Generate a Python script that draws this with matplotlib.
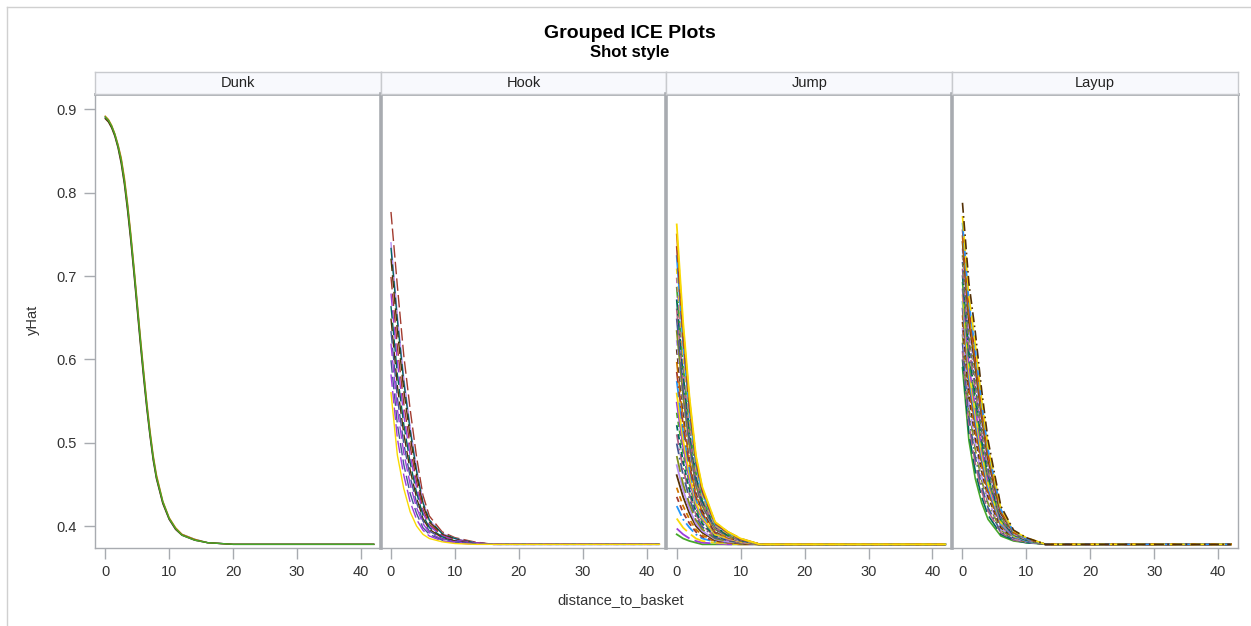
import matplotlib
matplotlib.use('Agg')
import matplotlib.pyplot as plt
from matplotlib.lines import Line2D

plt.rcParams['font.family'] = ['Liberation Sans', 'DejaVu Sans']

# panel names and x ticks
PANELS = ['Dunk', 'Hook', 'Jump', 'Layup']
X_TICKS = [0, 10, 20, 30, 40]
Y_TICKS = [0.4, 0.5, 0.6, 0.7, 0.8, 0.9]

# Dunk curves (almost identical)
DUNK_X = [0, 0.5, 1, 1.5, 2, 2.5, 3, 3.5, 4, 4.5, 5, 5.5, 6, 6.5, 7, 7.5, 8, 9, 10, 11, 12, 14, 16, 20, 42]
DUNK_Y = [
    [0.891, 0.887, 0.880, 0.870, 0.857, 0.840, 0.815, 0.784, 0.748, 0.708, 0.666, 0.624, 0.584, 0.546, 0.512, 0.483, 0.460, 0.429, 0.409, 0.397, 0.390, 0.384, 0.380, 0.378, 0.378],
    [0.890, 0.886, 0.879, 0.869, 0.855, 0.837, 0.812, 0.781, 0.745, 0.705, 0.663, 0.621, 0.581, 0.543, 0.510, 0.481, 0.458, 0.428, 0.408, 0.396, 0.389, 0.383, 0.380, 0.378, 0.378],
    [0.892, 0.888, 0.881, 0.871, 0.858, 0.842, 0.818, 0.787, 0.751, 0.711, 0.669, 0.627, 0.587, 0.549, 0.515, 0.485, 0.462, 0.430, 0.410, 0.398, 0.390, 0.384, 0.380, 0.378, 0.378],
    [0.889, 0.885, 0.878, 0.868, 0.854, 0.835, 0.810, 0.778, 0.742, 0.702, 0.660, 0.618, 0.578, 0.541, 0.508, 0.479, 0.457, 0.427, 0.408, 0.396, 0.389, 0.383, 0.380, 0.378, 0.378],
    [0.891, 0.887, 0.880, 0.870, 0.856, 0.839, 0.814, 0.783, 0.747, 0.707, 0.665, 0.623, 0.583, 0.545, 0.511, 0.482, 0.459, 0.429, 0.409, 0.397, 0.389, 0.383, 0.380, 0.378, 0.378],
]
DUNK_GROUP = [6, 10, 8, 3, 9]

# Hook curves
HOOK_X = [0, 1, 2, 3, 4, 5, 6, 8, 10, 13, 16, 42]
HOOK_Y = [
    [0.777, 0.688, 0.605, 0.540, 0.483, 0.437, 0.412, 0.393, 0.386, 0.381, 0.378, 0.378],
    [0.740, 0.653, 0.578, 0.519, 0.469, 0.429, 0.407, 0.391, 0.385, 0.380, 0.378, 0.378],
    [0.734, 0.647, 0.573, 0.515, 0.466, 0.428, 0.407, 0.391, 0.385, 0.380, 0.378, 0.378],
    [0.721, 0.635, 0.563, 0.508, 0.461, 0.425, 0.405, 0.390, 0.384, 0.380, 0.378, 0.378],
    [0.699, 0.615, 0.547, 0.496, 0.453, 0.420, 0.402, 0.389, 0.383, 0.380, 0.378, 0.378],
    [0.679, 0.597, 0.533, 0.485, 0.446, 0.416, 0.400, 0.388, 0.383, 0.380, 0.378, 0.378],
    [0.664, 0.582, 0.522, 0.476, 0.440, 0.413, 0.398, 0.387, 0.382, 0.379, 0.378, 0.378],
    [0.649, 0.568, 0.511, 0.467, 0.434, 0.409, 0.396, 0.386, 0.382, 0.379, 0.378, 0.378],
    [0.634, 0.554, 0.499, 0.459, 0.428, 0.406, 0.394, 0.385, 0.381, 0.379, 0.378, 0.378],
    [0.619, 0.540, 0.488, 0.450, 0.422, 0.403, 0.392, 0.384, 0.381, 0.379, 0.378, 0.378],
    [0.599, 0.522, 0.474, 0.439, 0.415, 0.398, 0.390, 0.383, 0.380, 0.379, 0.378, 0.378],
    [0.582, 0.505, 0.461, 0.429, 0.408, 0.395, 0.388, 0.382, 0.380, 0.378, 0.378, 0.378],
    [0.560, 0.485, 0.445, 0.417, 0.400, 0.390, 0.385, 0.381, 0.379, 0.378, 0.378, 0.378],
]
HOOK_GROUP = [13, 10, 14, 15, 13, 16, 14, 15, 12, 16, 12, 16, 11]

# Jump curves
JUMP_X = [0, 1, 2, 3, 4, 6, 8, 10, 13, 42]
JUMP_Y = [
    [0.390, 0.385, 0.382, 0.380, 0.378, 0.378, 0.378, 0.378, 0.378, 0.378],
    [0.397, 0.390, 0.385, 0.382, 0.380, 0.379, 0.378, 0.378, 0.378, 0.378],
    [0.409, 0.398, 0.391, 0.385, 0.382, 0.380, 0.379, 0.378, 0.378, 0.378],
    [0.424, 0.408, 0.398, 0.390, 0.385, 0.381, 0.380, 0.379, 0.378, 0.378],
    [0.435, 0.416, 0.403, 0.393, 0.387, 0.382, 0.380, 0.379, 0.378, 0.378],
    [0.446, 0.424, 0.408, 0.396, 0.389, 0.382, 0.380, 0.379, 0.378, 0.378],
    [0.461, 0.435, 0.415, 0.400, 0.392, 0.383, 0.381, 0.379, 0.378, 0.378],
    [0.473, 0.443, 0.420, 0.403, 0.394, 0.384, 0.381, 0.380, 0.378, 0.378],
    [0.484, 0.450, 0.426, 0.407, 0.396, 0.385, 0.382, 0.380, 0.378, 0.378],
    [0.499, 0.461, 0.433, 0.411, 0.399, 0.386, 0.383, 0.380, 0.378, 0.378],
    [0.510, 0.469, 0.438, 0.414, 0.401, 0.387, 0.383, 0.380, 0.378, 0.378],
    [0.521, 0.477, 0.443, 0.417, 0.403, 0.388, 0.383, 0.381, 0.378, 0.378],
    [0.536, 0.487, 0.450, 0.421, 0.406, 0.389, 0.384, 0.381, 0.378, 0.378],
    [0.548, 0.495, 0.455, 0.425, 0.408, 0.390, 0.384, 0.381, 0.378, 0.378],
    [0.559, 0.503, 0.461, 0.428, 0.410, 0.390, 0.385, 0.381, 0.378, 0.378],
    [0.574, 0.514, 0.468, 0.432, 0.413, 0.392, 0.386, 0.382, 0.378, 0.378],
    [0.585, 0.521, 0.473, 0.435, 0.415, 0.392, 0.386, 0.382, 0.378, 0.378],
    [0.597, 0.529, 0.478, 0.438, 0.417, 0.393, 0.386, 0.382, 0.378, 0.378],
    [0.612, 0.540, 0.485, 0.443, 0.419, 0.394, 0.387, 0.382, 0.378, 0.378],
    [0.623, 0.548, 0.490, 0.446, 0.422, 0.395, 0.387, 0.382, 0.378, 0.378],
    [0.634, 0.556, 0.496, 0.449, 0.424, 0.396, 0.388, 0.383, 0.378, 0.378],
    [0.649, 0.566, 0.503, 0.453, 0.426, 0.397, 0.389, 0.383, 0.378, 0.378],
    [0.661, 0.574, 0.508, 0.456, 0.428, 0.398, 0.389, 0.383, 0.378, 0.378],
    [0.672, 0.582, 0.513, 0.460, 0.430, 0.399, 0.389, 0.383, 0.378, 0.378],
    [0.687, 0.592, 0.520, 0.464, 0.433, 0.400, 0.390, 0.384, 0.378, 0.378],
    [0.698, 0.600, 0.525, 0.467, 0.435, 0.400, 0.391, 0.384, 0.378, 0.378],
    [0.709, 0.608, 0.531, 0.470, 0.437, 0.401, 0.391, 0.384, 0.378, 0.378],
    [0.724, 0.619, 0.538, 0.474, 0.440, 0.402, 0.392, 0.384, 0.378, 0.378],
    [0.736, 0.627, 0.543, 0.478, 0.442, 0.403, 0.392, 0.384, 0.378, 0.378],
    [0.751, 0.637, 0.550, 0.482, 0.445, 0.404, 0.393, 0.385, 0.378, 0.378],
    [0.762, 0.645, 0.555, 0.485, 0.447, 0.405, 0.393, 0.385, 0.378, 0.378],
]

# Layup curves
LAYUP_X = [0, 1, 2, 3, 4, 6, 8, 10, 13, 42]
LAYUP_Y = [
    [0.590, 0.503, 0.457, 0.428, 0.408, 0.388, 0.382, 0.380, 0.378, 0.378],
    [0.600, 0.512, 0.466, 0.435, 0.413, 0.390, 0.383, 0.380, 0.378, 0.378],
    [0.610, 0.522, 0.475, 0.442, 0.418, 0.392, 0.383, 0.381, 0.378, 0.378],
    [0.620, 0.531, 0.483, 0.448, 0.422, 0.393, 0.384, 0.381, 0.378, 0.378],
    [0.630, 0.541, 0.492, 0.455, 0.427, 0.395, 0.385, 0.381, 0.378, 0.378],
    [0.638, 0.548, 0.499, 0.460, 0.431, 0.397, 0.385, 0.381, 0.378, 0.378],
    [0.645, 0.556, 0.506, 0.466, 0.435, 0.398, 0.386, 0.382, 0.378, 0.378],
    [0.653, 0.564, 0.513, 0.471, 0.438, 0.400, 0.386, 0.382, 0.378, 0.378],
    [0.661, 0.571, 0.520, 0.477, 0.442, 0.401, 0.387, 0.382, 0.378, 0.378],
    [0.669, 0.579, 0.527, 0.482, 0.446, 0.402, 0.387, 0.382, 0.378, 0.378],
    [0.677, 0.586, 0.534, 0.487, 0.450, 0.404, 0.388, 0.383, 0.378, 0.378],
    [0.685, 0.594, 0.542, 0.493, 0.454, 0.405, 0.388, 0.383, 0.378, 0.378],
    [0.693, 0.601, 0.549, 0.498, 0.457, 0.407, 0.389, 0.383, 0.378, 0.378],
    [0.701, 0.609, 0.556, 0.504, 0.461, 0.408, 0.389, 0.383, 0.378, 0.378],
    [0.709, 0.616, 0.563, 0.509, 0.465, 0.410, 0.390, 0.384, 0.378, 0.378],
    [0.717, 0.624, 0.570, 0.514, 0.469, 0.411, 0.390, 0.384, 0.378, 0.378],
    [0.725, 0.632, 0.577, 0.520, 0.473, 0.412, 0.391, 0.384, 0.378, 0.378],
    [0.733, 0.639, 0.584, 0.525, 0.476, 0.414, 0.391, 0.384, 0.378, 0.378],
    [0.741, 0.647, 0.591, 0.531, 0.480, 0.415, 0.392, 0.385, 0.378, 0.378],
    [0.748, 0.654, 0.598, 0.536, 0.484, 0.417, 0.392, 0.385, 0.378, 0.378],
    [0.756, 0.662, 0.605, 0.541, 0.488, 0.418, 0.393, 0.385, 0.378, 0.378],
    [0.764, 0.669, 0.612, 0.547, 0.492, 0.420, 0.393, 0.385, 0.378, 0.378],
    [0.772, 0.677, 0.619, 0.552, 0.495, 0.421, 0.394, 0.386, 0.378, 0.378],
    [0.788, 0.692, 0.633, 0.563, 0.503, 0.424, 0.395, 0.386, 0.378, 0.378],
]

# SAS HTMLBlue group colours and line patterns
COLORS = ['#445694', '#A23A2E', '#01665E', '#543005', '#9D3CDB', '#7F8E1F',
          '#2597FA', '#B26084', '#D17800', '#47A82A', '#B38EF3', '#F9DA04']
PATTERNS = ['-', (0, (9, 3)), (0, (6, 2, 1, 2)), (0, (3, 2)), (0, (10, 2, 2, 2))]


def group_style(g):
    return COLORS[g % 12], PATTERNS[(g // 12) % len(PATTERNS)]


W, H = 1251, 626
fig = plt.figure(figsize=(W / 100, H / 100), dpi=100)

# outer frame (left and top edges)
fig.add_artist(Line2D([6.5 / W, 6.5 / W], [0, 1 - 6.5 / H], color='#D0D0D0', lw=1))
fig.add_artist(Line2D([6.5 / W, 1], [1 - 6.5 / H, 1 - 6.5 / H], color='#D0D0D0', lw=1))

fig.text(630 / W, 1 - 33 / H, 'Grouped ICE Plots', ha='center', va='center',
         fontsize=14, fontweight='bold')
fig.text(630 / W, 1 - 53 / H, 'Shot style', ha='center', va='center',
         fontsize=12, fontweight='bold')

left0 = 95 / W
pw = (1238 - 95) / 4 / W
bottom = (H - 548) / H
ph = (548 - 94) / H
strip_h = 22 / H

panel_data = [
    (DUNK_X, DUNK_Y, DUNK_GROUP, 1.0),
    (HOOK_X, HOOK_Y, HOOK_GROUP, 1.0),
    (JUMP_X, JUMP_Y, [(i * 7 + 9) % 48 for i in range(len(JUMP_Y) - 1)] + [11], 1.3),
    (LAYUP_X, LAYUP_Y, [(i * 5 + 9) % 48 for i in range(len(LAYUP_Y) - 1)] + [27], 1.2),
]

spine_col = '#A8ABB0'
for k, name in enumerate(PANELS):
    ax = fig.add_axes([left0 + k * pw, bottom, pw, ph])
    xs, curves, groups, lw = panel_data[k]
    for ys, g in zip(curves, groups):
        c, ls = group_style(g)
        ax.plot(xs, ys, color=c, linestyle=ls, lw=lw)
    ax.set_xlim(-1.6, 43.1)
    ax.set_ylim(0.3736, 0.9186)
    ax.set_xticks(X_TICKS)
    ax.tick_params(axis='x', length=8, width=1, color=spine_col,
                   labelsize=10.5, labelcolor='#333333', pad=4)
    if k == 0:
        ax.set_yticks(Y_TICKS)
        ax.set_yticklabels([f'{v:.1f}' for v in Y_TICKS])
        ax.tick_params(axis='y', length=8, width=1, color=spine_col,
                       labelsize=10.5, labelcolor='#333333', pad=5)
    else:
        ax.set_yticks([])
    for s in ax.spines.values():
        s.set_color(spine_col)
        s.set_linewidth(1.0)
    if k > 0:
        ax.spines['left'].set_linewidth(2.6)
    ax.spines['top'].set_linewidth(2.0)

    sax = fig.add_axes([left0 + k * pw, bottom + ph, pw, strip_h])
    sax.set_facecolor('#F8F9FD')
    sax.set_xticks([])
    sax.set_yticks([])
    for s in sax.spines.values():
        s.set_color('#C8CACE')
        s.set_linewidth(1.0)
    sax.text(0.5, 0.5, name, ha='center', va='center', fontsize=10.5,
             color='#222222', transform=sax.transAxes)

fig.text(621 / W, 1 - 600 / H, 'distance_to_basket', ha='center', va='center',
         fontsize=10.5, color='#333333')
fig.text(33 / W, 1 - 320 / H, 'yHat', ha='center', va='center', rotation=90,
         fontsize=10.5, color='#333333')

fig.savefig('out.png', dpi=100)
